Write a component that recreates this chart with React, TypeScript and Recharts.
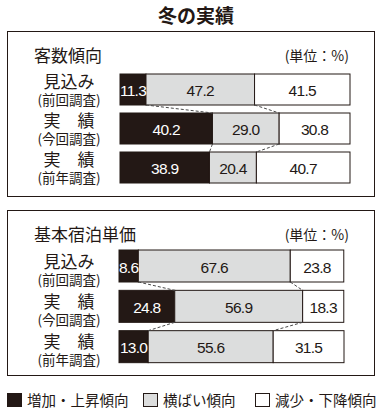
import React, { useRef } from 'react';
import { BarChart, Bar, XAxis, YAxis, LabelList } from 'recharts';

// row labels (two lines each)
const rowMain = ['見込み', '実　績', '実　績'];
const rowSub = ['(前回調査)', '(今回調査)', '(前年調査)'];

// 客数傾向
const guestUp = [11.3, 40.2, 38.9];
const guestFlat = [47.2, 29.0, 20.4];
const guestDown = [41.5, 30.8, 40.7];

// 基本宿泊単価
const priceUp = [8.6, 24.8, 13.0];
const priceFlat = [67.6, 56.9, 55.6];
const priceDown = [23.8, 18.3, 31.5];

const legendNames = ['増加・上昇傾向', '横ばい傾向', '減少・下降傾向'];

const INK = '#231815';
const GRAY = '#dcdddd';
const JP = '"Noto Sans CJK JP", "Noto Sans", sans-serif';
const NUM = '"Liberation Sans", Arial, sans-serif';

type Box = { x: number; y: number; width: number; height: number };

const valueLabel = (color: string) => (p: any) => {
  const vb = p.viewBox ?? p;
  return (
    <text
      x={vb.x + vb.width / 2}
      y={vb.y + vb.height / 2 + 1}
      fill={color}
      textAnchor="middle"
      dominantBaseline="central"
      fontFamily={NUM}
      fontSize={15.5}
      letterSpacing={-0.7}
    >
      {Number(p.value).toFixed(1)}
    </text>
  );
};

interface PanelProps {
  title: string;
  up: number[];
  flat: number[];
  down: number[];
  top: number;
  axisWidth: number;
  margin: { top: number; right: number; bottom: number; left: number };
  barSize: number;
  mainDy: number;
  subDy: number;
  labelOffset: number;
}

const Panel: React.FC<PanelProps> = ({ title, up, flat, down, top, axisWidth, margin, barSize, mainDy, subDy, labelOffset }) => {
  // bar positions, filled in by the shapes so the dashed links can join rows
  const store = useRef<{ up: Box[]; flat: Box[] }>({ up: [], flat: [] }).current;
  const rows = rowSub.map((s, i) => ({ key: s, up: up[i], flat: flat[i], down: down[i] }));

  const upShape = (p: any) => {
    store.up[p.index] = { x: p.x, y: p.y, width: p.width, height: p.height };
    return <rect x={p.x} y={p.y} width={p.width} height={p.height} fill={INK} stroke={INK} strokeWidth={1} />;
  };
  const flatShape = (p: any) => {
    store.flat[p.index] = { x: p.x, y: p.y, width: p.width, height: p.height };
    return <rect x={p.x} y={p.y} width={p.width} height={p.height} fill={GRAY} stroke={INK} strokeWidth={1} />;
  };
  const downShape = (p: any) => {
    const i = p.index;
    const links: React.ReactNode[] = [];
    if (i > 0) {
      (['up', 'flat'] as const).forEach((k) => {
        const a = store[k][i - 1];
        const b = store[k][i];
        if (a && b) {
          links.push(
            <line key={k} x1={a.x + a.width} y1={a.y + a.height} x2={b.x + b.width} y2={b.y}
              stroke="#4a4a4a" strokeWidth={1} strokeDasharray="3 2" />
          );
        }
      });
    }
    return (
      <g>
        <rect x={p.x} y={p.y} width={p.width} height={p.height} fill="#fff" stroke={INK} strokeWidth={1} />
        {links}
      </g>
    );
  };

  const tick = (p: any) => {
    const i = p.index ?? p.payload?.index ?? 0;
    const cx = p.x - labelOffset;
    return (
      <g>
        <text x={cx} y={p.y + mainDy} textAnchor="middle" dominantBaseline="central" fontFamily={JP} fontSize={17} fill={INK}>
          {rowMain[i]}
        </text>
        <text x={cx} y={p.y + subDy} textAnchor="middle" dominantBaseline="central" fontFamily={JP} fontSize={13.5} fill={INK}>
          {rowSub[i]}
        </text>
      </g>
    );
  };

  return (
    <>
      <div style={{ position: 'absolute', left: 7, top, width: 368, height: 166, boxSizing: 'border-box', border: `1.5px solid ${INK}` }} />
      <div style={{ position: 'absolute', left: 34, top: top + 24 - 12, fontFamily: JP, fontSize: 17, lineHeight: '24px', color: INK }}>{title}</div>
      <div style={{ position: 'absolute', right: 385 - 349, top: top + 24 - 11, fontFamily: JP, fontSize: 14, lineHeight: '22px', color: INK }}>(単位：%)</div>
      <div style={{ position: 'absolute', left: 7, top }}>
        <BarChart width={368} height={166} data={rows} layout="vertical" margin={margin} barSize={barSize}>
          <XAxis type="number" domain={[0, 100]} hide />
          <YAxis type="category" dataKey="key" width={axisWidth} axisLine={false} tickLine={false}
            tickSize={0} tickMargin={0} interval={0} tick={tick} />
          <Bar dataKey="up" stackId="a" shape={upShape} isAnimationActive={false}>
            <LabelList dataKey="up" content={valueLabel('#fff')} />
          </Bar>
          <Bar dataKey="flat" stackId="a" shape={flatShape} isAnimationActive={false}>
            <LabelList dataKey="flat" content={valueLabel(INK)} />
          </Bar>
          <Bar dataKey="down" stackId="a" shape={downShape} isAnimationActive={false}>
            <LabelList dataKey="down" content={valueLabel(INK)} />
          </Bar>
        </BarChart>
      </div>
    </>
  );
};

const legendX = [7, 143, 255];
const legendFill = [INK, GRAY, '#fff'];

export default function App() {
  return (
    <div style={{ position: 'absolute', left: 0, top: 0, width: 385, height: 413, background: '#fff', fontFamily: JP }}>
      <div style={{ position: 'absolute', left: 0, width: 392, top: 2, textAlign: 'center', fontFamily: JP, fontWeight: 700, fontSize: 19, lineHeight: '26px', color: INK }}>
        冬の実績
      </div>
      <Panel title="客数傾向" up={guestUp} flat={guestFlat} down={guestDown} top={31}
        axisWidth={113} margin={{ top: 39, right: 25, bottom: 10, left: 0 }} barSize={31}
        mainDy={-9} subDy={9.5} labelOffset={51} />
      <Panel title="基本宿泊単価" up={priceUp} flat={priceFlat} down={priceDown} top={210}
        axisWidth={112} margin={{ top: 36, right: 31, bottom: 9, left: 0 }} barSize={32}
        mainDy={-6} subDy={12.5} labelOffset={50} />
      {legendNames.map((n, i) => (
        <React.Fragment key={n}>
          <div style={{ position: 'absolute', left: legendX[i], top: 393, width: 15, height: 14, boxSizing: 'border-box', background: legendFill[i], border: `1px solid ${INK}` }} />
          <div style={{ position: 'absolute', left: legendX[i] + 20, top: 389, fontFamily: JP, fontSize: 14.5, lineHeight: '22px', color: INK, whiteSpace: 'nowrap' }}>{n}</div>
        </React.Fragment>
      ))}
    </div>
  );
}
